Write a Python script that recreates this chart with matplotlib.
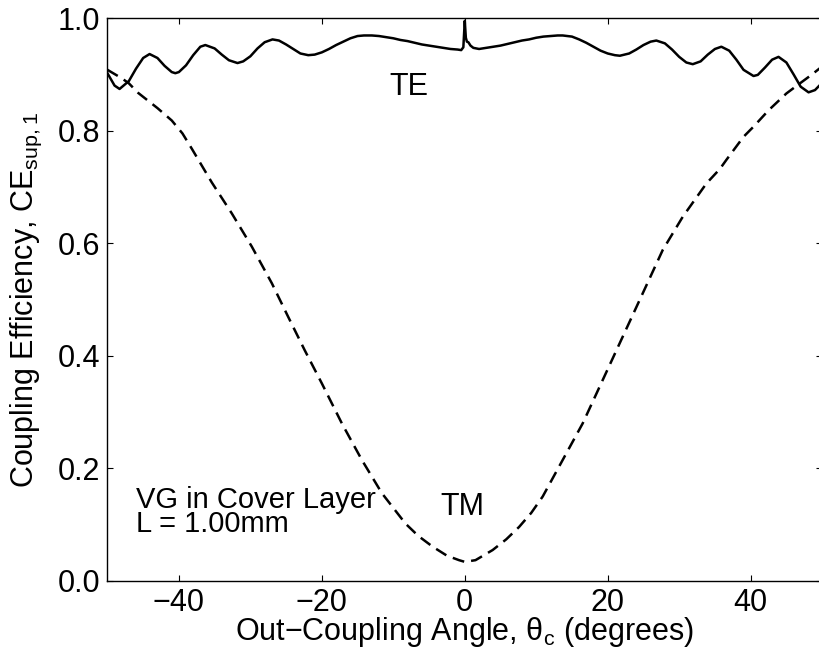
import matplotlib
matplotlib.use("Agg")
import matplotlib.pyplot as plt

plt.rcParams['font.family'] = ['Liberation Sans', 'DejaVu Sans']
plt.rcParams['mathtext.default'] = 'regular'

# TE curve (solid)
te_theta = [-50, -49, -48.3, -47, -46, -45, -44.1, -43, -42, -41, -40.5,
            -40, -39, -38, -37, -36.3, -35, -34, -33, -31.8,
            -31, -30, -29, -28, -26.9, -26, -25, -24, -23, -21.9,
            -21, -20, -19, -18, -17, -16, -15, -14.1,
            -13, -12, -11, -10, -9, -8, -7, -6, -5, -4, -3, -2, -1,
            -0.5, -0.2, 0, 0.15, 0.3, 0.5, 0.8, 1.2,
            2, 3, 4, 5, 6, 7, 8, 9, 10, 11, 12, 13, 13.7,
            15, 16, 17, 18, 19, 20, 21, 21.7,
            23, 24, 25, 26, 26.8, 28, 29, 30, 31, 31.9,
            33, 34, 35, 35.9, 37, 38, 39, 40.4,
            41, 42, 43, 43.9, 45, 46, 47, 48.1, 49, 50]
te_ce = [0.902, 0.880, 0.874, 0.888, 0.910, 0.929, 0.936, 0.929, 0.915, 0.904, 0.902,
         0.904, 0.916, 0.934, 0.949, 0.952, 0.946, 0.935, 0.925, 0.920,
         0.923, 0.932, 0.946, 0.957, 0.962, 0.960, 0.953, 0.945, 0.937, 0.934,
         0.935, 0.939, 0.945, 0.952, 0.958, 0.964, 0.968, 0.969,
         0.969, 0.968, 0.966, 0.964, 0.961, 0.959, 0.956, 0.953, 0.951, 0.949, 0.947, 0.945, 0.944,
         0.943, 0.948, 0.995, 0.965, 0.958, 0.957, 0.951, 0.947,
         0.945, 0.947, 0.949, 0.951, 0.954, 0.957, 0.960, 0.962, 0.965, 0.967, 0.968, 0.969, 0.969,
         0.967, 0.962, 0.956, 0.949, 0.942, 0.937, 0.934, 0.933,
         0.937, 0.944, 0.952, 0.958, 0.960, 0.955, 0.944, 0.931, 0.921, 0.918,
         0.923, 0.935, 0.945, 0.949, 0.942, 0.926, 0.908, 0.897,
         0.899, 0.912, 0.926, 0.931, 0.921, 0.900, 0.878, 0.868, 0.872, 0.885]

# TM curve (dashed)
tm_theta = [-50, -48, -47, -45.7, -43, -41, -39.5, -38.2, -36.8, -35.4, -32.6,
            -29.8, -27, -24.7, -22.4, -20, -17.2, -14.4, -11.6, -8.3, -6.5,
            -4.5, -2.5, -0.8, 0, 1.5, 3.9, 5.8, 7.6, 9.3, 10.9, 13.7, 16.5,
            19.3, 22.1, 24.9, 27.7, 30.5, 33.8, 35.7, 36.6, 39, 40.4, 42.5,
            45, 46.9, 48.5, 50]
tm_ce = [0.908, 0.893, 0.884, 0.867, 0.840, 0.818, 0.795, 0.768, 0.738, 0.708, 0.653,
         0.594, 0.529, 0.469, 0.410, 0.351, 0.280, 0.215, 0.156, 0.102, 0.080,
         0.061, 0.045, 0.037, 0.034, 0.037, 0.055, 0.074, 0.096, 0.121, 0.150, 0.215, 0.280,
         0.357, 0.434, 0.511, 0.588, 0.647, 0.706, 0.732, 0.748, 0.789, 0.807, 0.836,
         0.866, 0.884, 0.899, 0.914]

xticks = [-40, -20, 0, 20, 40]
yticks = [0.0, 0.2, 0.4, 0.6, 0.8, 1.0]

fig = plt.figure(figsize=(8.2, 6.6), dpi=100)
ax = fig.add_axes([0.131, 0.1197, 0.8716, 0.853])

ax.plot(te_theta, te_ce, color='black', lw=1.8)
tm_line, = ax.plot(tm_theta, tm_ce, color='black', lw=1.8)
tm_line.set_dashes([4.8, 2.8])

ax.set_xlim(-50, 50)
ax.set_ylim(0, 1)
ax.set_xticks(xticks)
ax.set_yticks(yticks)
ax.set_yticklabels([f'{v:.1f}' for v in yticks])
ax.tick_params(direction='in', length=4.5, width=0.8, labelsize=22,
               top=True, right=True, pad=5)
for s in ax.spines.values():
    s.set_linewidth(1.0)

ax.set_xlabel('Out\u2212Coupling Angle, \u03b8$_c$ (degrees)', fontsize=22, labelpad=-2)
ax.set_ylabel('Coupling Efficiency, CE$_{sup,1}$', fontsize=22, labelpad=10)

ax.text(-10.6, 0.863, 'TE', fontsize=22)
ax.text(-3.4, 0.117, 'TM', fontsize=22)
ax.text(-46.0, 0.0876, 'VG in Cover Layer\nL = 1.00mm', fontsize=21,
        linespacing=0.82, va='baseline')

fig.savefig('out.png', dpi=100)
